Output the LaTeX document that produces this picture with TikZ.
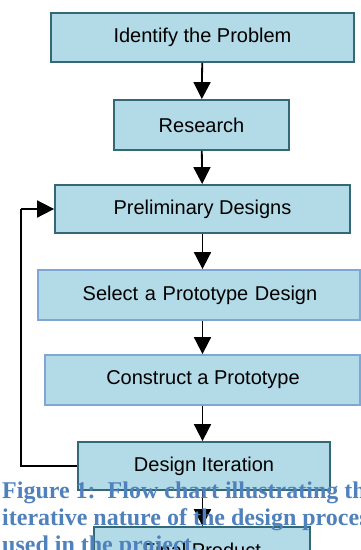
\documentclass[tikz,border=0pt]{standalone}
\usepackage{fontspec}
\setmainfont{Liberation Serif}
\newfontfamily\boxfont{Liberation Sans}
\usetikzlibrary{arrows.meta}
\definecolor{boxfill}{RGB}{178,219,231}
\definecolor{boxedge}{RGB}{52,104,118}
\definecolor{softedge}{RGB}{128,166,214}
\definecolor{captionblue}{RGB}{79,129,189}
\tikzset{
  stage/.style={draw=boxedge, fill=boxfill, line width=1.8pt, inner sep=0pt,
    font=\boxfont\fontsize{20}{23}\selectfont, text=black},
  softstage/.style={stage, draw=softedge},
  flow/.style={line width=1.8pt, -{Triangle[width=17pt,length=17pt]}},
  loopline/.style={line width=1.8pt},
  caption/.style={inner sep=0pt, anchor=north west, align=left, text=captionblue,
    font=\bfseries\fontsize{24}{27}\selectfont}
}
\begin{document}
\begin{tikzpicture}[x=1pt,y=-1pt]
\useasboundingbox (0,0) rectangle (361,550);
% main sequence of stages
\node[stage, minimum width=303pt, minimum height=49pt] (problem) at (202.5,37.5) {Identify the Problem};
\node[stage, minimum width=175pt, minimum height=50pt] (research) at (201.5,125) {Research};
\node[stage, minimum width=295pt, minimum height=48pt] (prelim) at (202.5,209) {Preliminary Designs};
\node[softstage, minimum width=322pt, minimum height=50pt, text width=322pt, align=center, xshift=-2pt] (select) at (201,295) {\hspace*{2pt}\makebox[0pt]{Select a Prototype Design}};
\node[softstage, minimum width=315pt, minimum height=50pt] (construct) at (202.5,380) {\hspace*{1pt}Construct a Prototype};
\node[stage, minimum width=252pt, minimum height=48pt] (iterate) at (204,466) {Design Iteration};
\node[stage, minimum width=216pt, minimum height=46pt] (final) at (202,550) {Final Product};
% connectors
\draw[flow] (problem) -- (research);
\draw[flow] (research) -- (prelim);
\draw[flow] (prelim.south) -- (prelim.south |- select.north);
\draw[flow] (prelim.south |- select.south) -- (prelim.south |- construct.north);
\draw[flow] (prelim.south |- construct.south) -- (prelim.south |- iterate.north);
\draw[flow] (prelim.south |- iterate.south) -- (prelim.south |- final.north);
% feedback loop back to the preliminary designs
\coordinate (loopcorner) at (21,466);
\draw[loopline] (iterate.west) -- (loopcorner) -- (loopcorner |- prelim.west);
\draw[flow] (loopcorner |- prelim.west) -- (prelim.west);
% figure caption
\node[caption] (cap) at (2,481.5) {\frenchspacing Figure 1:\ \ Flow chart illustrating the\\iterative nature of the design process\\used in the project.};
\end{tikzpicture}
\end{document}
